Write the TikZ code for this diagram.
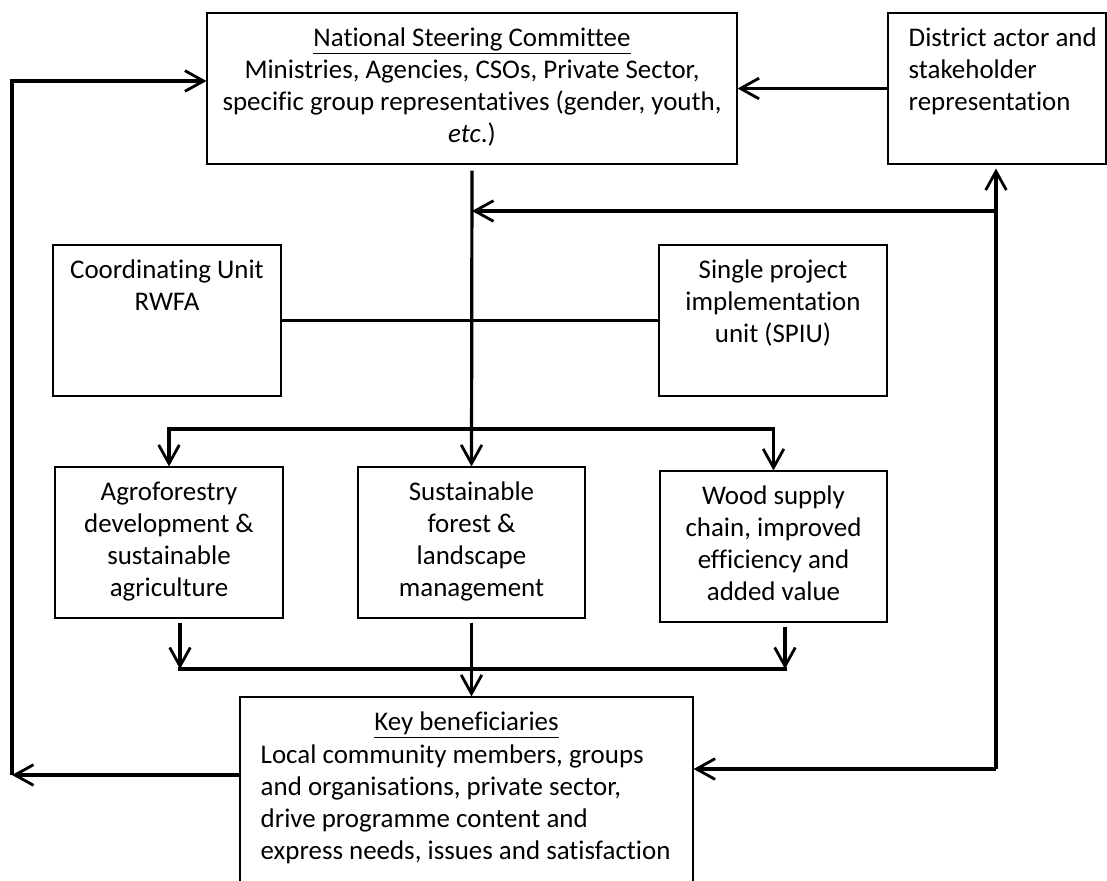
\documentclass[tikz,border=0pt]{standalone}
\usepackage{fontspec}
\setmainfont{Carlito}[Ligatures=NoCommon]
\usepackage{tikz}
\usetikzlibrary{arrows.meta}
\usetikzlibrary{positioning}
\tikzset{box/.style={draw, line width=0.8pt, inner sep=0},
 txt/.style={inner sep=0, align=center, font=\fontsize{20.2}{24}\selectfont},
 link/.style={line width=2.4pt},
 arr/.style={link, -{Straight Barb[length=14pt,width=15.5pt,line width=2.1pt]}},
 }

\begin{document}
\begin{tikzpicture}[x=0.75pt,y=-0.75pt]
        \useasboundingbox (0,0) rectangle (1107,881);
        \clip (0,0) rectangle (1107,881);
        % boxes
        \node[box, minimum width=397.5pt, minimum height=113.25pt] (nsc) at (472,88.5) {};
        \node[box, minimum width=163.5pt, minimum height=113.25pt] (district) at (997,88.5) {};
        \node[box, minimum width=171pt, minimum height=113.25pt] (coord) at (167,320.5) {};
        \node[box, minimum width=171pt, minimum height=113.25pt] (spiu) at (773,320.5) {};
        \node[box, minimum width=171pt, minimum height=113.25pt] (agro) at (169,542.5) {};
        \node[box, minimum width=170.25pt, minimum height=113.25pt] (sust) at (471.5,542.5) {};
        \node[box, minimum width=170.25pt, minimum height=113.25pt] (wood) at (773.5,546.5) {};
        \node[box, minimum width=339.75pt, minimum height=165pt] (key) at (466.5,807) {};
        % texts
        \node[txt, below=11.5pt of nsc.north] (nsctxt) {\underline{National Steering Committee}\\
            Ministries, Agencies, CSOs, Private Sector,\\
            specific group representatives (gender, youth,\\
            \textit{etc}.)};
        \node[txt, align=left, below right=11.5pt and 15.75pt of district.north west] (distxt)
            {District actor and\\stakeholder\\representation};
        \node[txt, below=11.5pt of coord.north] (coordtxt) {Coordinating Unit\\RWFA};
        \node[txt, below=11.5pt of spiu.north] (spiutxt) {Single project\\implementation\\unit (SPIU)};
        \node[txt, below=11.5pt of agro.north] (agrotxt) {Agroforestry\\development \&\\sustainable\\agriculture};
        \node[txt, below=11.5pt of sust.north] (susttxt) {Sustainable\\forest \&\\landscape\\management};
        \node[txt, below=11.5pt of wood.north] (woodtxt) {Wood supply\\chain, improved\\efficiency and\\added value};
        \node[txt, below=11.5pt of key.north] (keytitle) {\underline{Key beneficiaries}};
        \node[txt, align=left, below right=36.25pt and 15.75pt of key.north west] (keytxt)
            {Local community members, groups\\and organisations, private sector,\\
            drive programme content and\\express needs, issues and satisfaction};
        % corners of the loops
        \coordinate (bl) at (12,775);
        \coordinate (tl) at (12,81);
        \coordinate (br) at (996,769);
        \coordinate (tr) at (996,211);
        \coordinate (split) at (0,429);
        \coordinate (jl) at (180,669);
        \coordinate (jr) at (785,669);
        % connectors
        \draw[arr] (district.west) -- (nsc.east);
        \draw[arr] (key.west |- bl) -- (bl);
        \draw[arr] (bl) -- (tl) -- (nsc.west |- tl);
        \draw[arr] (br) -- (key.east |- br);
        \draw[arr, shorten >=3pt] (br) -- (br |- district.south);
        \draw[arr] (tr) -- (nsc.south |- tr);
        \draw[arr, shorten <=4.5pt] (nsc.south) -- (sust.north);
        \draw[link] (coord.east) -- (spiu.west);
        \draw[link, line cap=rect] (agro.north |- split) -- (wood.north |- split);
        \draw[arr] (agro.north |- split) -- (agro.north);
        \draw[arr] (wood.north |- split) -- (wood.north);
        \draw[arr, shorten <=3pt] (agro.south -| jl) -- (jl);
        \draw[arr, shorten <=3pt] (wood.south -| jr) -- (jr);
        \draw[link, line cap=rect] (jl) -- (jr);
        \draw[arr, shorten <=3pt] (sust.south) -- (sust.south |- key.north);
    \end{tikzpicture}
\end{document}
